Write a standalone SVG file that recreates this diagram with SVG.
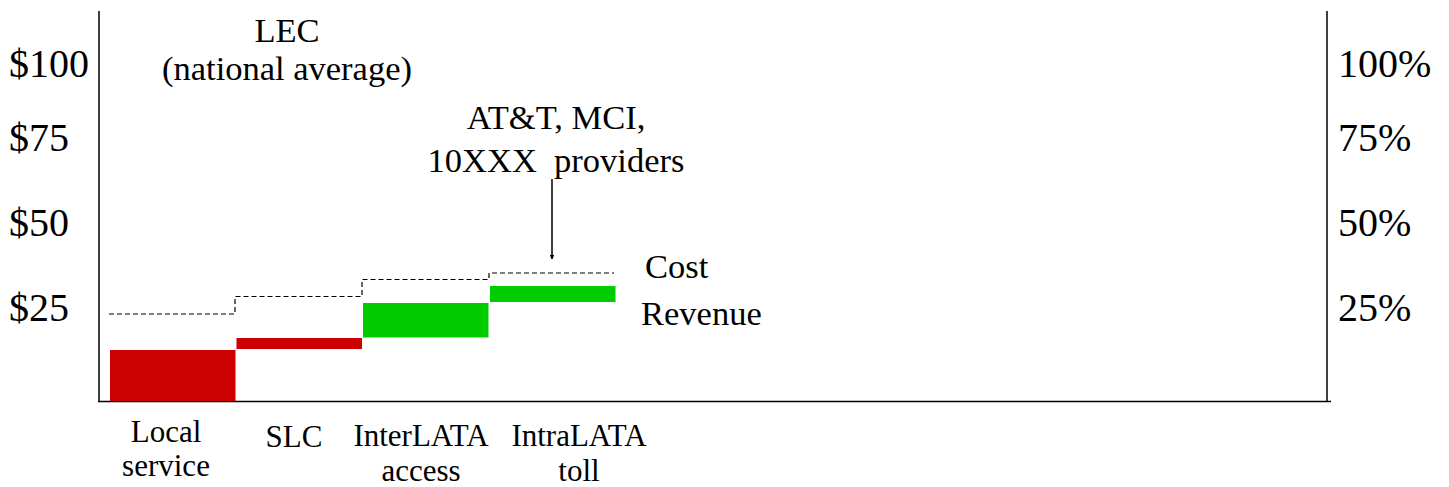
<svg xmlns="http://www.w3.org/2000/svg" width="1449" height="487" viewBox="0 0 1449 487">
<style>
text{font-family:"Liberation Serif","Times New Roman",serif;fill:#000}
.ax{font-size:40px}
.lb{font-size:34.5px}
.cat{font-size:31px;text-anchor:middle}
.axis{stroke:#000;stroke-width:1.5;fill:none}
.dash{stroke:#000;stroke-width:1.2;fill:none;stroke-dasharray:5 3}
.red{fill:#cc0000}
.green{fill:#00cc00}
</style>
<defs>
<marker id="ah" viewBox="0 0 10 10" refX="9" refY="5" markerWidth="5" markerHeight="5" orient="auto" markerUnits="userSpaceOnUse">
<path d="M0,0 L10,5 L0,10 z" fill="#000"/>
</marker>
</defs>
<g id="axes">
<line class="axis" x1="99" y1="11" x2="99" y2="401.5"/>
<line class="axis" x1="1327" y1="11" x2="1327" y2="401.5"/>
<line class="axis" x1="98" y1="401.5" x2="1331" y2="401.5"/>
</g>
<g id="left-labels">
<text class="ax" x="9" y="77">$100</text>
<text class="ax" x="9" y="151">$75</text>
<text class="ax" x="9" y="236">$50</text>
<text class="ax" x="9" y="321">$25</text>
</g>
<g id="right-labels">
<text class="ax" x="1338" y="77">100%</text>
<text class="ax" x="1338" y="151">75%</text>
<text class="ax" x="1338" y="236">50%</text>
<text class="ax" x="1338" y="321">25%</text>
</g>
<g id="bars">
<rect id="bar-local" class="red" x="110" y="350" width="125.5" height="51"/>
<rect id="bar-slc" class="red" x="236.5" y="338" width="125.5" height="11"/>
<rect id="bar-interlata" class="green" x="363" y="303" width="125.5" height="34.5"/>
<rect id="bar-intralata" class="green" x="490" y="286" width="125.5" height="16"/>
</g>
<g id="connectors">
<path id="cost-line" class="dash" d="M109,314 H235 V296.5 H362 V279.5 H489 V273 H614"/>
<line id="arrow" x1="552" y1="179" x2="552" y2="259" stroke="#000" stroke-width="1.5" marker-end="url(#ah)"/>
</g>
<g id="lec-label">
<text class="lb" x="287" y="42" text-anchor="middle">LEC</text>
<text class="lb" x="287" y="80" text-anchor="middle">(national average)</text>
</g>
<g id="provider-label">
<text class="lb" x="556" y="129" text-anchor="middle">AT&amp;T, MCI,</text>
<text class="lb" x="556" y="172" text-anchor="middle" xml:space="preserve">10XXX  providers</text>
</g>
<g id="legend">
<text class="lb" x="645" y="278">Cost</text>
<text class="lb" x="641" y="325">Revenue</text>
</g>
<g id="categories">
<text class="cat" x="166" y="442">Local</text>
<text class="cat" x="166" y="476">service</text>
<text class="cat" x="294" y="447">SLC</text>
<text class="cat" x="421" y="446">InterLATA</text>
<text class="cat" x="421" y="481">access</text>
<text class="cat" x="579" y="446">IntraLATA</text>
<text class="cat" x="579" y="481">toll</text>
</g>
</svg>
